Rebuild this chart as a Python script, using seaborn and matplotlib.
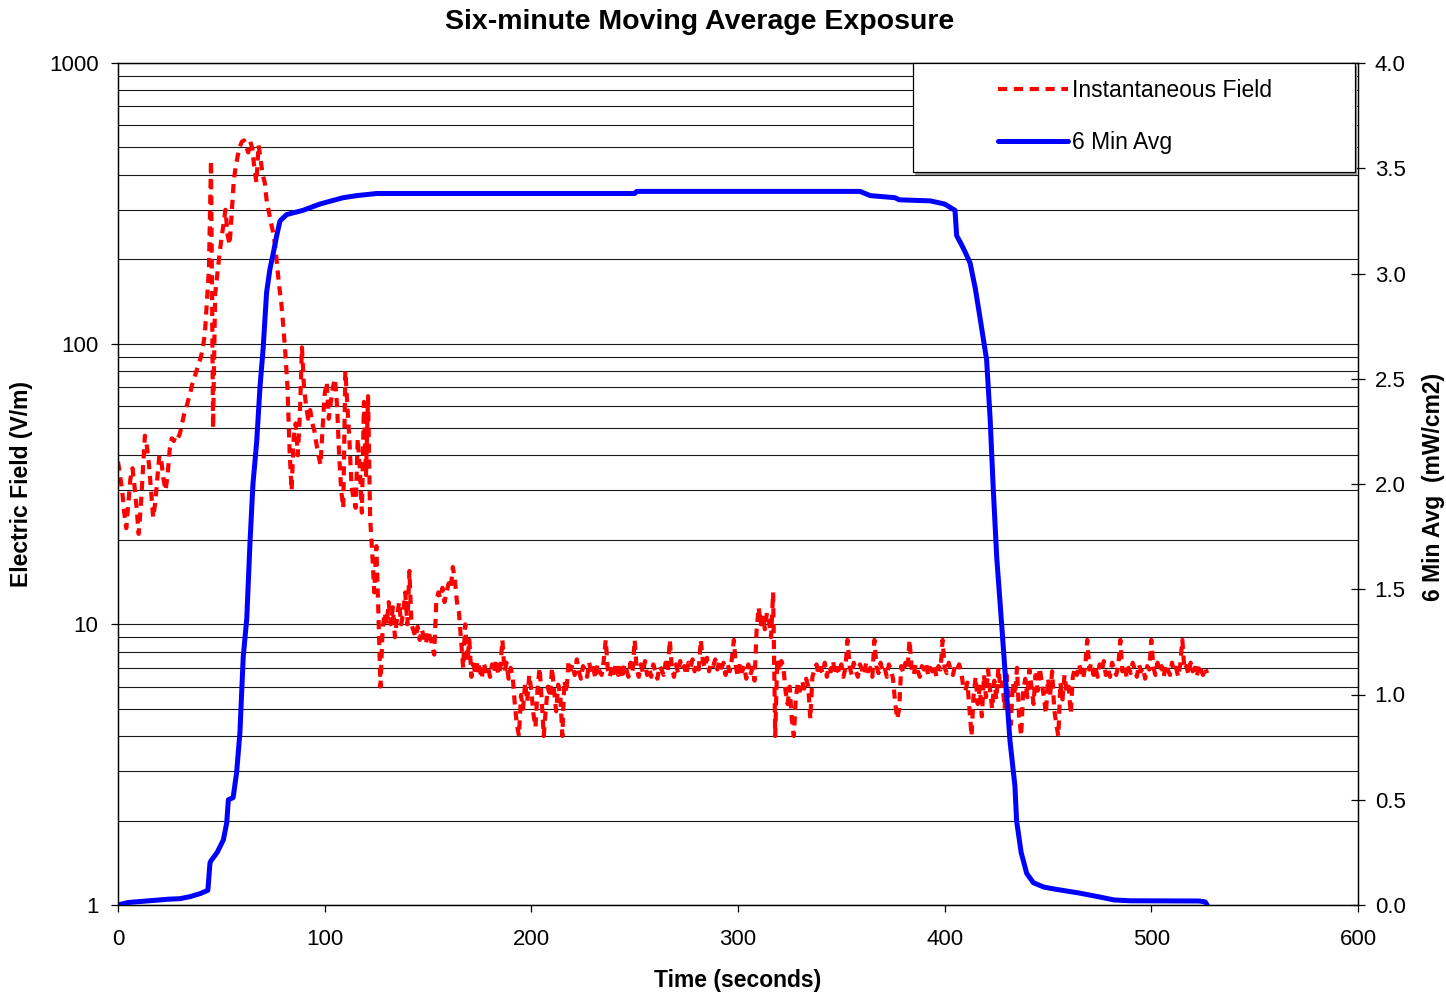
import numpy as np
import pandas as pd
import matplotlib
matplotlib.use("Agg")
import matplotlib.pyplot as plt
from matplotlib.patches import Rectangle
from matplotlib.ticker import LogLocator, FixedLocator, FormatStrFormatter, NullFormatter
import seaborn as sns

# ---------------- data ----------------
# Instantaneous field (V/m), one sample per second, t = 0 .. 527 s
field_vm = [
    38, 34, 30, 25, 22, 27, 33, 36, 31, 26,
    21, 26, 35, 47, 43, 37, 30, 24, 27, 33,
    40, 38, 33, 30, 34, 42, 46, 45, 47, 46,
    48, 52, 56, 59, 63, 67, 72, 76, 80, 85,
    89, 96, 108, 140, 185, 450, 50, 150, 175, 205,
    235, 265, 300, 245, 225, 290, 380, 430, 470, 505,
    525, 530, 505, 480, 525, 495, 420, 375, 510, 455,
    400, 375, 320, 295, 270, 250, 225, 190, 160, 140,
    115, 92, 70, 42, 30, 46, 52, 40, 56, 97,
    70, 60, 54, 58, 52, 49, 44, 40, 37, 50,
    66, 73, 54, 62, 70, 75, 60, 40, 30, 26,
    80, 60, 45, 31, 28, 26, 46, 36, 25, 62,
    34, 65, 24, 18, 13, 19, 11, 6, 9.5, 11,
    10, 12, 10, 11.5, 9, 10.5, 12, 10, 11, 13,
    10, 15.5, 10, 9.5, 9, 9.8, 8.8, 9.6, 9, 8.5,
    9.5, 9, 8.5, 7.8, 12, 13, 12.4, 13.5, 12, 13,
    14, 13.4, 16, 14.5, 12, 11, 8.8, 7, 10, 7.4,
    8.8, 6.5, 7.2, 6.6, 7.4, 6.9, 6.4, 7.3, 6.8, 7.1,
    6.5, 7.2, 6.7, 7.5, 6.6, 7.0, 8.8, 6.8, 7.3, 6.4,
    7.0, 6.5, 5.2, 4.4, 4.0, 5.6, 5.0, 6.2, 5.3, 6.6,
    5.8, 4.8, 4.3, 5.9, 7.0, 5.4, 4.0, 5.0, 6.0, 5.5,
    7.0, 5.8, 4.9, 6.1, 5.6, 4.0, 6.3, 5.7, 7.4, 6.9,
    7.2, 6.6, 7.5, 6.8, 6.4, 7.1, 6.9, 6.5, 7.3, 6.7,
    7.0, 6.4, 7.2, 6.8, 6.6, 7.4, 8.8, 6.9, 6.5, 7.1,
    6.7, 7.3, 6.6, 7.0, 6.4, 7.2, 6.9, 6.5, 7.3, 6.8,
    8.8, 6.9, 6.5, 7.2, 6.7, 7.4, 6.6, 7.0, 6.5, 7.2,
    6.8, 6.4, 7.1, 6.9, 6.6, 7.3, 6.8, 8.8, 7.0, 6.5,
    7.2, 6.7, 7.4, 6.9, 7.1, 6.6, 7.3, 7.0, 7.5, 6.8,
    7.2, 6.9, 8.8, 7.4, 7.0, 7.6, 6.8, 7.3, 7.1, 7.5,
    6.9, 7.4, 7.0, 7.3, 6.6, 7.2, 6.8, 7.5, 8.8, 7.0,
    6.5, 7.3, 6.8, 7.1, 6.4, 7.2, 6.6, 7.0, 6.3, 9.5,
    11.5, 10, 10.8, 9.6, 11, 10.2, 9.0, 13, 4.0, 7.5,
    6.8, 7.4, 7.0, 5.8, 5.2, 6.0, 4.6, 4.0, 5.5, 6.2,
    5.8, 6.3, 5.9, 6.4, 6.0, 4.6, 6.5, 6.9, 7.2, 6.6,
    7.0, 6.7, 7.3, 6.5, 7.1, 6.8, 7.4, 6.6, 7.0, 6.7,
    7.2, 6.5, 7.0, 8.8, 7.1, 6.6, 7.3, 6.8, 6.5, 7.2,
    6.9, 6.6, 7.3, 6.8, 7.0, 6.5, 8.8, 7.1, 6.7, 7.3,
    6.8, 7.0, 6.5, 7.2, 6.9, 6.4, 5.3, 4.6, 5.0, 7.1,
    6.7, 7.3, 6.9, 8.8, 7.0, 6.6, 7.2, 6.8, 6.5, 7.1,
    6.9, 7.3, 6.6, 7.0, 6.8, 7.2, 6.5, 7.1, 6.9, 8.8,
    7.0, 6.7, 7.3, 6.8, 6.6, 7.1, 6.9, 7.2, 6.8, 6.0,
    5.8, 6.2, 5.0, 4.0, 5.6, 6.5, 5.2, 6.0, 4.7, 6.6,
    5.5, 6.9, 5.8, 5.0, 6.3, 5.4, 7.0, 5.9, 6.2, 5.0,
    6.6, 5.3, 4.4, 6.2, 5.6, 7.0, 4.7, 4.0, 5.8, 6.4,
    5.5, 6.9, 6.0, 5.2, 6.6, 5.8, 7.0, 6.2, 5.5, 4.8,
    6.4, 5.6, 6.8, 5.0, 4.4, 4.0, 6.2, 5.4, 6.6, 5.7,
    6.0, 4.8, 6.5, 7.0, 6.6, 7.2, 6.8, 6.4, 7.1, 8.8,
    6.9, 7.3, 6.6, 7.0, 6.5, 7.2, 6.8, 7.4, 6.6, 7.0,
    6.5, 7.3, 6.9, 6.6, 7.1, 8.8, 6.8, 7.2, 6.5, 7.0,
    6.7, 7.3, 6.9, 6.5, 7.2, 6.8, 7.0, 6.4, 7.1, 6.9,
    8.8, 7.0, 6.6, 7.3, 6.8, 7.1, 6.5, 7.2, 6.9, 6.6,
    7.3, 6.8, 7.0, 6.5, 7.2, 8.8, 6.9, 7.1, 6.6, 7.3,
    6.8, 7.0, 6.5, 7.2, 6.9, 6.6, 7.0, 6.7,
]
field_time = list(range(len(field_vm)))

# Six-minute moving average (mW/cm2), read at these times (s)
avg_time = [0, 2, 5, 10, 15, 20, 25, 30, 35, 40, 43.5, 44.5, 45, 48, 51,
            52.6, 53.4, 55.7, 57.4, 59, 60.6, 62.3, 63.9, 65.3, 67.1, 68.7,
            70.2, 71.9, 73.5, 75, 76.8, 78.4, 81.6, 89.5, 97.7, 108.9, 115.5,
            125.2, 141, 250, 251, 359, 364, 376, 378, 393, 400, 405, 405.8,
            408, 410, 412.3, 414.8, 417.1, 420.3, 422, 423.5, 425.2, 427.6,
            430, 431.6, 434, 434.8, 437, 439.7, 442.9, 448, 454.2, 465, 475,
            482, 490, 523, 526, 527]
avg_mw = [0.0, 0.005, 0.012, 0.016, 0.02, 0.024, 0.028, 0.03, 0.04, 0.055,
          0.07, 0.2, 0.21, 0.25, 0.31, 0.39, 0.5, 0.51, 0.63, 0.82, 1.18, 1.36,
          1.73, 2.00, 2.20, 2.46, 2.64, 2.91, 3.02, 3.09, 3.18, 3.25, 3.28,
          3.30, 3.33, 3.36, 3.37, 3.38, 3.38, 3.38, 3.39, 3.39, 3.37, 3.36,
          3.35, 3.345, 3.33, 3.30, 3.18, 3.14, 3.10, 3.05, 2.93, 2.79, 2.59,
          2.31, 1.98, 1.65, 1.33, 1.00, 0.78, 0.565, 0.40, 0.25, 0.15, 0.106,
          0.085, 0.074, 0.057, 0.038, 0.024, 0.02, 0.019, 0.015, 0.0]

title_text = "Six-minute Moving Average Exposure"
xlabel_text = "Time (seconds)"
ylabel_left = "Electric Field (V/m)"
ylabel_right = "6 Min Avg  (mW/cm2)"
legend_labels = ["Instantaneous Field", "6 Min Avg"]
left_ticks = [1, 10, 100, 1000]
left_tick_labels = ["1", "10", "100", "1000"]

# ---------------- style ----------------
sns.set_style("white")
plt.rcParams["font.family"] = ["Liberation Sans", "DejaVu Sans"]
plt.rcParams["axes.linewidth"] = 0.9
plt.rcParams["text.color"] = "black"
plt.rcParams["axes.labelcolor"] = "black"
plt.rcParams["xtick.color"] = "black"
plt.rcParams["ytick.color"] = "black"

W, H = 1446, 992
fig = plt.figure(figsize=(W / 100, H / 100), dpi=100)
L, R, T, B = 118, 1358, 63, 905
ax = fig.add_axes([L / W, 1 - B / H, (R - L) / W, (B - T) / H])
ax2 = ax.twinx()

df_field = pd.DataFrame({"t": field_time, "v": field_vm})
df_avg = pd.DataFrame({"t": avg_time, "v": avg_mw})

sns.lineplot(data=df_field, x="t", y="v", ax=ax, color="#FF0000",
             linewidth=3.0, estimator=None, sort=False, legend=False)
sns.lineplot(data=df_avg, x="t", y="v", ax=ax2, color="#0000FF",
             linewidth=3.6, estimator=None, sort=False, legend=False)

red_line = ax.lines[-1]
red_line.set_dashes([2.2, 1.6])
red_line.set_dash_capstyle("butt")
blue_line = ax2.lines[-1]
blue_line.set_solid_capstyle("round")
blue_line.set_solid_joinstyle("round")

# left (log) axis
ax.set_yscale("log")
ax.set_ylim(1, 1000)
ax.set_xlim(0, 600)
ax.yaxis.set_major_locator(FixedLocator(left_ticks))
ax.set_yticklabels(left_tick_labels)
ax.yaxis.set_minor_locator(LogLocator(base=10, subs=np.arange(2, 10)))
ax.yaxis.set_minor_formatter(NullFormatter())
ax.set_xticks(np.arange(0, 601, 100))
ax.grid(True, which="both", axis="y", color="#1a1a1a", linewidth=0.8)
ax.grid(False, axis="x")
ax.set_axisbelow(True)
ax.tick_params(axis="y", which="major", direction="out", length=5, width=0.9,
               labelsize=16, pad=9, colors="black", left=True)
ax.tick_params(axis="y", which="minor", length=0)
ax.tick_params(axis="x", direction="out", length=5, width=0.9,
               labelsize=16, pad=12, colors="black", bottom=True)

# right (linear) axis
ax2.set_ylim(0, 4.0)
ax2.set_yticks(np.arange(0, 4.01, 0.5))
ax2.yaxis.set_major_formatter(FormatStrFormatter("%.1f"))
ax2.tick_params(axis="y", direction="inout", length=10, width=0.9,
                labelsize=16, pad=7, colors="black", right=True)
ax2.grid(False)

for a in (ax, ax2):
    for s in a.spines.values():
        s.set_color("black")
        s.set_linewidth(0.9)

ax.set_xlabel(xlabel_text, fontsize=16.5, fontweight="bold", va="center",
              color="black")
ax.xaxis.set_label_coords(0.5, (B - 980) / (B - T))
ax.set_ylabel(ylabel_left, fontsize=16.5, fontweight="bold", va="center",
              color="black")
ax.yaxis.set_label_coords((22 - L) / (R - L), 0.5)
ax2.set_ylabel(ylabel_right, fontsize=16.5, fontweight="bold", va="center",
               color="black")
ax2.yaxis.set_label_coords((1433 - L) / (R - L), 0.496)

fig.text(700 / W, 1 - 22 / H, title_text, fontsize=20.5, fontweight="bold",
         ha="center", va="center", color="black")

# legend box
bx0 = (913 - L) / (R - L)
by0 = (B - 172) / (B - T)
bw = (1355 - 913) / (R - L)
bh = (172 - 63) / (B - T)
shadow = Rectangle((bx0 + 0.002, by0 - 0.003), bw, bh, transform=ax2.transAxes,
                   facecolor="#9a9a9a", edgecolor="none", zorder=5, clip_on=False)
box = Rectangle((bx0, by0), bw, bh, transform=ax2.transAxes,
                facecolor="white", edgecolor="black", linewidth=0.9, zorder=6,
                clip_on=False)
ax2.add_patch(shadow)
ax2.add_patch(box)
leg = ax2.legend([red_line, blue_line], legend_labels, loc="upper left",
                 bbox_to_anchor=((998 - L) / (R - L), (B - 79) / (B - T)),
                 frameon=False, fontsize=16.5, handlelength=3.05,
                 handletextpad=0.2, labelspacing=1.25, borderpad=0,
                 borderaxespad=0)
for txt in leg.get_texts():
    txt.set_color("black")
leg.set_zorder(7)

fig.savefig("out.png", dpi=100)
